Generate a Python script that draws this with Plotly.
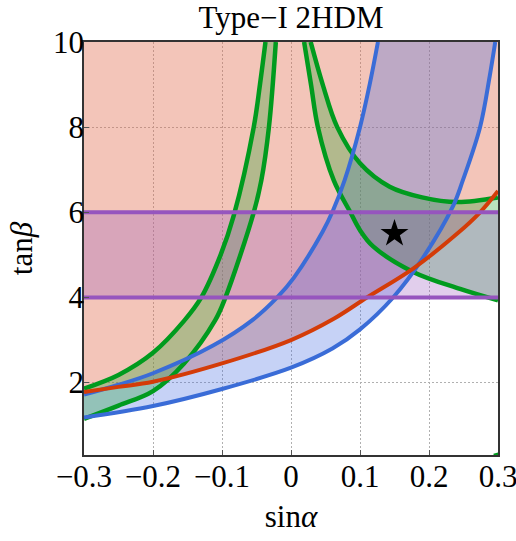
import plotly.graph_objects as go

# ---------------- data ----------------
x_range = [-0.3, 0.3]
y_range = [0.3, 10.0]
x_ticks = [-0.3, -0.2, -0.1, 0.0, 0.1, 0.2, 0.3]
x_ticklabels = ["−0.3", "−0.2", "−0.1", "0", "0.1", "0.2", "0.3"]
y_ticks = [2, 4, 6, 8, 10]
y_ticklabels = ["2", "4", "6", "8", "10"]

# upper edge of the excluded (salmon) region
top_x = [-0.3, 0.3]
top_y = [10.0, 10.0]

# red curve (lower boundary of the salmon region)
red_x = [-0.3, -0.25, -0.2, -0.1, 0.0, 0.062, 0.11, 0.177, 0.241, 0.274, 0.3]
red_y = [1.78, 1.9, 2.02, 2.45, 3.0, 3.5, 4.0, 4.68, 5.5, 6.0, 6.5]

# blue band
blue1_x = [-0.3, -0.25, -0.2, -0.113, -0.055, -0.02, 0.004, 0.046, 0.061, 0.078, 0.1, 0.114, 0.126]
blue1_y = [1.72, 1.95, 2.22, 2.87, 3.48, 4.0, 4.46, 5.55, 6.05, 6.77, 8.0, 9.0, 10.0]
blue2_x = [-0.3, -0.2, -0.1, 0.0, 0.06, 0.1, 0.148, 0.19, 0.235, 0.249, 0.274, 0.288, 0.296]
blue2_y = [1.18, 1.45, 1.85, 2.35, 2.8, 3.25, 4.0, 4.9, 6.15, 6.75, 8.0, 9.2, 10.0]

# left green band
gA_x = [-0.3, -0.25, -0.2, -0.155, -0.13, -0.102, -0.083, -0.054, -0.045, -0.037]
gA_y = [1.86, 2.18, 2.7, 3.45, 4.0, 5.0, 5.92, 8.0, 9.0, 10.0]
gB_x = [-0.3, -0.25, -0.2, -0.155, -0.11, -0.095, -0.054, -0.043, -0.032, -0.022]
gB_y = [1.15, 1.46, 1.8, 2.45, 3.46, 4.0, 6.0, 6.75, 8.0, 10.0]

# right green band
gC_x = [0.019, 0.029, 0.039, 0.062, 0.086, 0.1, 0.119, 0.177, 0.245, 0.3]
gC_y = [10.0, 9.0, 8.0, 6.75, 6.0, 5.58, 5.2, 4.6, 4.2, 3.93]
gD_x = [0.0285, 0.046, 0.067, 0.1, 0.143, 0.19, 0.241, 0.3]
gD_y = [10.0, 9.0, 8.0, 7.15, 6.6, 6.35, 6.24, 6.35]

# tiny green piece at the bottom-right corner
gE_x = [0.294, 0.302]
gE_y = [0.28, 0.31]

# purple band
purple_x = [-0.3, 0.3]
purple_low = [4.0, 4.0]
purple_high = [6.0, 6.0]

# benchmark point
star_x = [0.15]
star_y = [5.5]

# ---------------- styles ----------------
FONT = "Liberation Serif"
SALMON = "rgba(225,110,80,0.40)"
BLUE_FILL = "rgba(65,105,225,0.30)"
GREEN_FILL = "rgba(30,160,40,0.30)"
PURPLE_FILL = "rgba(150,85,190,0.29)"
GREEN = "rgb(0,155,30)"
BLUE = "rgb(58,108,215)"
RED = "rgb(212,60,8)"
PURPLE = "rgb(150,85,190)"

fig = go.Figure()


def base(x, y):
    fig.add_trace(go.Scatter(x=x, y=y, mode="lines",
                             line=dict(width=0, shape="spline"),
                             hoverinfo="skip", showlegend=False))


def band(x, y, color):
    fig.add_trace(go.Scatter(x=x, y=y, mode="lines", fill="tonexty",
                             fillcolor=color,
                             line=dict(width=0, shape="spline"),
                             hoverinfo="skip", showlegend=False))


def curve(x, y, color, width):
    fig.add_trace(go.Scatter(x=x, y=y, mode="lines",
                             line=dict(color=color, width=width, shape="spline"),
                             hoverinfo="skip", showlegend=False))


# fills
base(top_x, top_y)
band(red_x, red_y, SALMON)
base(blue1_x, blue1_y)
band(blue2_x, blue2_y, BLUE_FILL)
base(gA_x, gA_y)
band(gB_x, gB_y, GREEN_FILL)
base(gC_x, gC_y)
band(gD_x, gD_y, GREEN_FILL)
base(purple_x, purple_low)
band(purple_x, purple_high, PURPLE_FILL)

# lines
curve(gA_x, gA_y, GREEN, 4.5)
curve(gB_x, gB_y, GREEN, 4.5)
curve(gC_x, gC_y, GREEN, 4.5)
curve(gD_x, gD_y, GREEN, 4.5)
curve(gE_x, gE_y, GREEN, 4.5)
curve(blue1_x, blue1_y, BLUE, 4)
curve(blue2_x, blue2_y, BLUE, 4)
curve(red_x, red_y, RED, 4)
curve(purple_x, purple_low, PURPLE, 4)
curve(purple_x, purple_high, PURPLE, 4)

fig.add_trace(go.Scatter(x=star_x, y=star_y, mode="markers",
                         marker=dict(symbol="star", size=21, color="black",
                                     line=dict(width=0)),
                         hoverinfo="skip", showlegend=False))

axis_common = dict(
    showline=True, linecolor="#333333", linewidth=1.5, mirror=True,
    ticks="inside", ticklen=5, tickwidth=1.2, tickcolor="#555555",
    showgrid=True, gridcolor="#b0b0b0", gridwidth=1, griddash="1.5px,2.5px",
    zeroline=False, ticklabeloverflow="allow",
    tickfont=dict(family=FONT, size=31, color="black"),
)

fig.update_layout(
    width=516, height=541,
    margin=dict(l=84, r=18, t=42, b=86),
    paper_bgcolor="white", plot_bgcolor="white",
    title=dict(text="Type−I 2HDM", x=0.5, xref="paper", xanchor="center",
               y=1 - 17 / 541, yref="container", yanchor="middle",
               font=dict(family=FONT, size=31, color="black")),
    xaxis=dict(range=x_range, tickvals=x_ticks, ticktext=x_ticklabels,
               ticklabelstandoff=-7,
               title=dict(text="sin<i>α</i>", standoff=12,
                          font=dict(family=FONT, size=31, color="black")),
               automargin=False, **axis_common),
    yaxis=dict(range=y_range, tickvals=y_ticks, ticktext=y_ticklabels,
               ticklabelstandoff=-8,
               title=dict(text="tan<i>β</i>", standoff=11,
                          font=dict(family=FONT, size=31, color="black")),
               automargin=False, **axis_common),
    showlegend=False,
)

fig.write_html("out.html", config={"displayModeBar": False},
               post_script="document.body.style.margin='0px';")
